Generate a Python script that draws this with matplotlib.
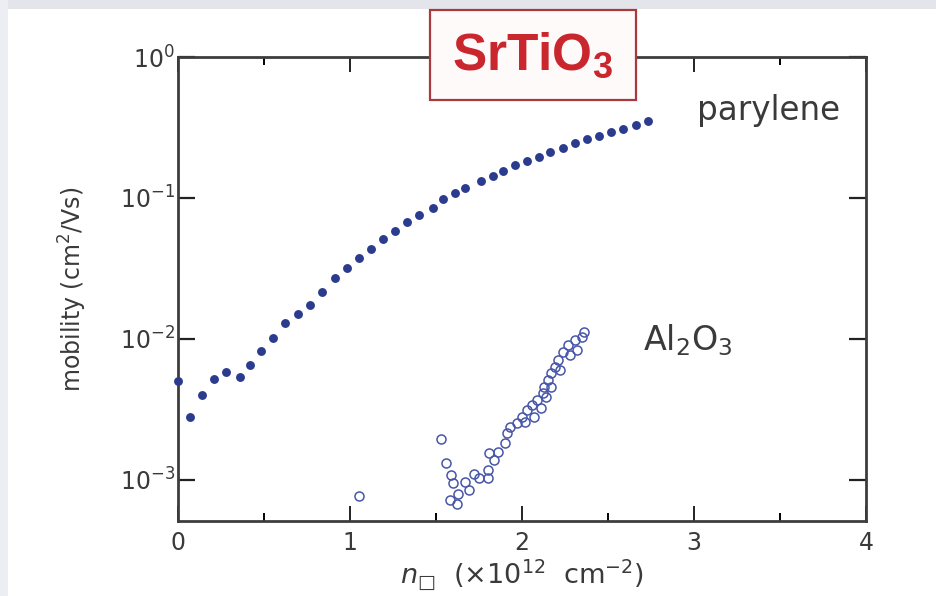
import matplotlib
matplotlib.use("Agg")
import matplotlib.pyplot as plt
from matplotlib.patches import Rectangle
from matplotlib.ticker import FixedLocator, LogFormatterSciNotation

plt.rcParams["font.family"] = ["DejaVu Sans"]
plt.rcParams["mathtext.fontset"] = "dejavusans"
# "custom" math font set, used only by the title
plt.rcParams["mathtext.rm"] = "Liberation Sans"
plt.rcParams["mathtext.it"] = "Liberation Sans:italic"
plt.rcParams["mathtext.bf"] = "Liberation Sans:bold"

# Parylene-gated SrTiO3: sheet density (1e12 cm^-2) vs mobility (cm^2/Vs)
parylene_n = [0.00, 0.07, 0.14, 0.21, 0.28, 0.36, 0.42, 0.48, 0.55, 0.62,
              0.70, 0.77, 0.84, 0.91, 0.98, 1.05, 1.12, 1.19, 1.26, 1.33,
              1.40, 1.48, 1.54, 1.61, 1.67, 1.76, 1.83, 1.89, 1.96, 2.03,
              2.10, 2.16, 2.24, 2.31, 2.38, 2.45, 2.52, 2.59, 2.66, 2.73]
parylene_mu = [0.00504, 0.00280, 0.00401, 0.00520, 0.00586, 0.00537, 0.00654,
               0.00822, 0.0102, 0.0130, 0.0150, 0.0173, 0.0214, 0.0271, 0.0317,
               0.0375, 0.0437, 0.0509, 0.0586, 0.0673, 0.0757, 0.0853, 0.0979,
               0.109, 0.118, 0.133, 0.143, 0.156, 0.170, 0.182, 0.196, 0.212,
               0.227, 0.244, 0.262, 0.277, 0.292, 0.310, 0.330, 0.352]

# Al2O3-gated SrTiO3
al2o3_n = [1.05, 1.53, 1.56, 1.59, 1.60, 1.58, 1.62, 1.63, 1.67, 1.69,
           1.72, 1.75, 1.80, 1.80, 1.81, 1.84, 1.86, 1.90, 1.91, 1.93,
           1.97, 2.00, 2.03, 2.06, 2.09, 2.12, 2.13, 2.15, 2.17, 2.19,
           2.21, 2.24, 2.27, 2.31, 2.35, 2.32, 2.28, 2.22, 2.17, 2.14,
           2.11, 2.07, 2.02, 2.36]
al2o3_mu = [0.00077, 0.00194, 0.00131, 0.00108, 0.00095, 0.00072, 0.00068,
            0.00080, 0.00097, 0.00085, 0.00111, 0.00103, 0.00118, 0.00103,
            0.00155, 0.00139, 0.00159, 0.00182, 0.00214, 0.00239, 0.00252,
            0.00281, 0.00313, 0.00340, 0.00369, 0.00412, 0.00459, 0.00512,
            0.00571, 0.00637, 0.00710, 0.00813, 0.00906, 0.00984, 0.01038,
            0.00836, 0.00770, 0.00603, 0.00459, 0.00390, 0.00322, 0.00281,
            0.00259, 0.01127]

x_ticks = [0, 1, 2, 3, 4]
x_minor = [0.5, 1.5, 2.5, 3.5]
y_ticks = [1e-3, 1e-2, 1e-1, 1e0]

W, H = 937, 596
fig = plt.figure(figsize=(W / 100, H / 100), dpi=100, facecolor="white")

# slide backdrop strips
fig.patches.append(Rectangle((0, 1 - 9 / H), 1, 9 / H, transform=fig.transFigure,
                             facecolor="#e4e5ea", edgecolor="none", zorder=0))
fig.patches.append(Rectangle((0, 0), 8 / W, 1, transform=fig.transFigure,
                             facecolor="#eceef4", edgecolor="none", zorder=0))

ax = fig.add_axes([178 / W, 1 - 521 / H, (866 - 178) / W, (521 - 57) / H])
ax.set_yscale("log")
ax.set_xlim(0, 4)
ax.set_ylim(10 ** -3.291, 1.0)

ax.plot(parylene_n, parylene_mu, "o", color="#2b3c8e", markersize=6.4,
        markeredgewidth=0, clip_on=False, zorder=3)
ax.plot(al2o3_n, al2o3_mu, "o", markerfacecolor="none", markeredgecolor="#4856a8",
        markersize=6.5, markeredgewidth=1.1, clip_on=False, zorder=3)

for s in ax.spines.values():
    s.set_linewidth(2.0)
    s.set_color("#3d3d3d")

ax.xaxis.set_major_locator(FixedLocator(x_ticks))
ax.xaxis.set_minor_locator(FixedLocator(x_minor))
ax.yaxis.set_major_locator(FixedLocator(y_ticks))
ax.yaxis.set_minor_locator(FixedLocator([]))
ax.yaxis.set_major_formatter(LogFormatterSciNotation())
ax.tick_params(axis="x", which="major", direction="in", length=11, width=1.4,
               top=True, labelsize=17, colors="#222222", pad=7)
ax.tick_params(axis="x", which="minor", direction="in", length=6, width=1.4, top=True)
ax.tick_params(axis="y", which="major", direction="in", length=12, width=1.6,
               right=True, labelsize=17, colors="#222222", pad=2)
ax.tick_params(axis="x", labelcolor="#3a3a3a")
ax.tick_params(axis="y", labelcolor="#3a3a3a")

ax.set_xlabel("$n_{\u25a1}$  (\u00d710$^{12}$  cm$^{-2}$)", fontsize=19.5,
              color="#3a3a3a", labelpad=2)
ax.set_ylabel(r"mobility (cm$^{2}$/Vs)", fontsize=17, color="#3a3a3a", labelpad=22)

ax.text(3.017, 0.357, "parylene", fontsize=23.5, color="#3a3a3a",
        ha="left", va="baseline")
ax.text(2.703, 0.00836, r"Al$_2$O$_3$", fontsize=24, color="#3a3a3a",
        ha="left", va="baseline")

# title box overlapping the top spine
bx0, bx1, by0, by1 = 430, 636, 10, 100
fig.patches.append(Rectangle((bx0 / W, 1 - by1 / H), (bx1 - bx0) / W, (by1 - by0) / H,
                             transform=fig.transFigure, facecolor="#fefafa",
                             edgecolor="#a83a3e", linewidth=1.6, zorder=5))
fig.text((bx0 + bx1) / 2 / W, 1 - 56 / H, "SrTiO$_\\mathbf{3}$", fontsize=37,
         fontweight="bold", family="Liberation Sans", color="#c9262e",
         ha="center", va="center", zorder=6, math_fontfamily="custom")

fig.savefig("out.png", dpi=100, facecolor=fig.get_facecolor())
